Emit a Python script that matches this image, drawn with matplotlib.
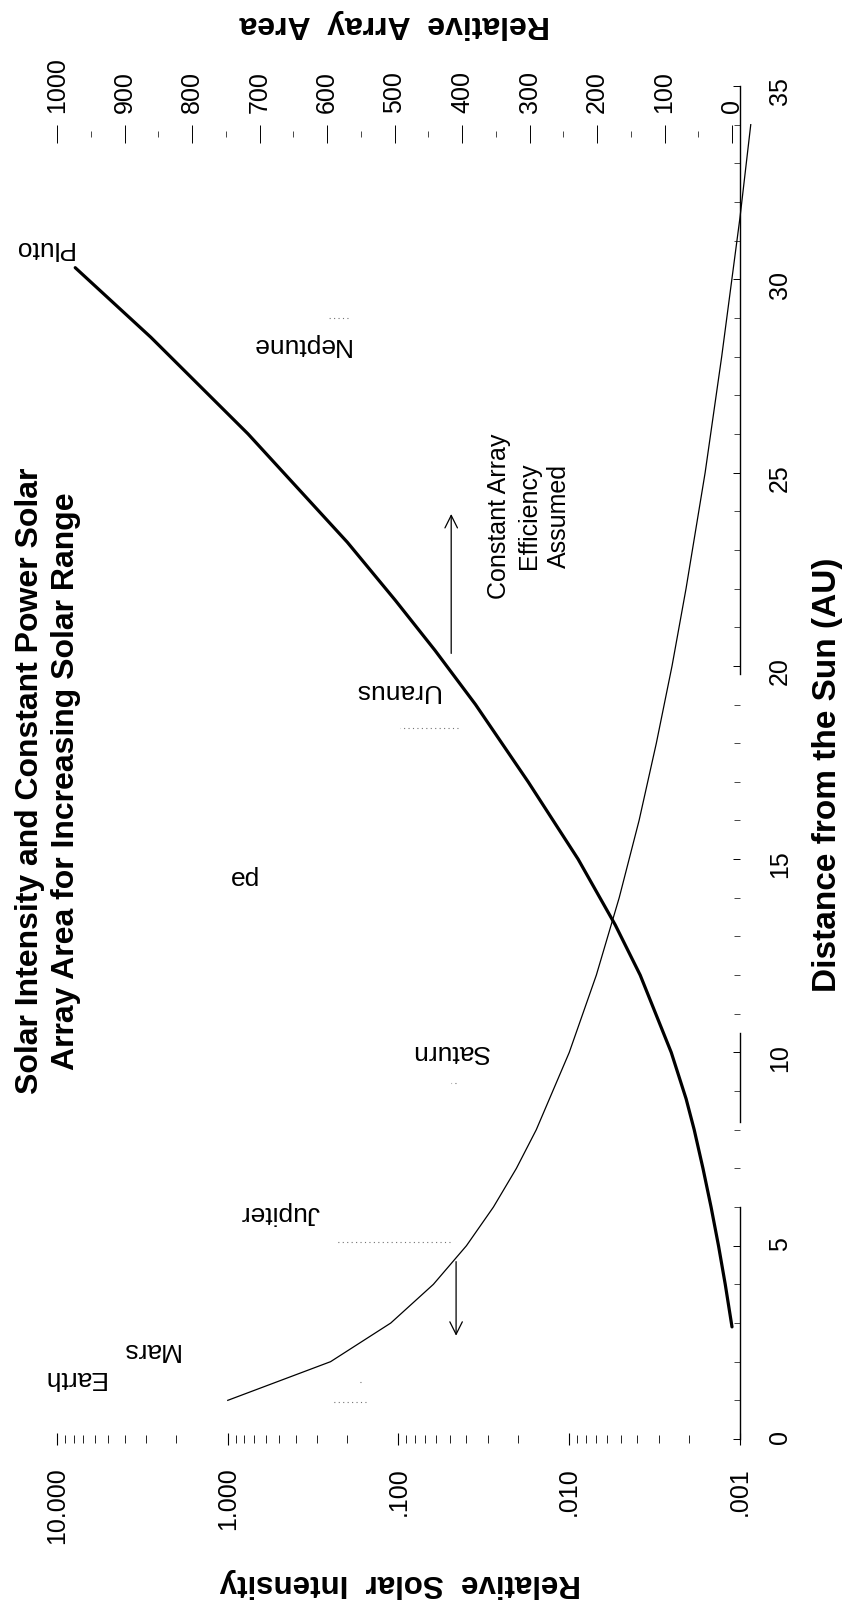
import matplotlib
matplotlib.use("agg")
import matplotlib.pyplot as plt
from matplotlib.ticker import FixedLocator, MultipleLocator, LogLocator, NullFormatter

plt.rcParams['font.family'] = ['Liberation Sans', 'DejaVu Sans']

# solar intensity relative to 1 AU (thin line)
dist = [1, 2, 3, 4, 5, 6, 7, 8, 10, 12, 14, 16, 18, 20, 22, 25, 28, 31.6, 34]
intensity = [1.0, 0.25, 0.111, 0.0625, 0.04, 0.0278, 0.0204, 0.0156, 0.01, 0.00694,
             0.0051, 0.0039, 0.00309, 0.0025, 0.00207, 0.0016, 0.00128, 0.001, 0.000865]

# array area needed for constant power (thick line)
area_dist = [2.9, 4, 5, 6, 7, 8, 8.8, 10, 12, 13.3, 15, 17, 19, 20.4, 21.7, 23.2, 26, 28.5, 30.3]
area = [0, 10, 20, 31, 43, 56, 68, 90, 136, 173, 228, 302, 380, 440, 499, 570, 717, 861, 973]

int_ticks = [10, 1, 0.1, 0.01, 0.001]
int_labels = ['10.000', '1.000', '.100', '.010', '.001']
area_ticks = [0, 100, 200, 300, 400, 500, 600, 700, 800, 900, 1000]
dist_ticks = [0, 5, 10, 15, 20, 25, 30, 35]

planets = ['Earth', 'Mars', 'Jupiter', 'Saturn', 'Uranus', 'Neptune', 'Pluto']
# label positions in pixels (x, y from top)
planet_px = [(73, 1378), (150, 1350), (280, 1213), (450, 1052), (396, 691), (300, 345), (43, 248)]

# faint dotted planet markers left in the scan: distance, intensity span
mark_d = [0.96, 1.47, 5.1, 9.2, 18.4, 29.0]
mark_lo = [0.155, 0.165, 0.050, 0.046, 0.045, 0.198]
mark_hi = [0.245, 0.175, 0.236, 0.049, 0.098, 0.263]

# pieces of the distance axis line that survive in the scan
axis_pieces = [(0, 6.0), (8.2, 10.5), (19.8, 35)]

W, H = 845, 1606
fig = plt.figure(figsize=(W / 100, H / 100), dpi=100)
x0, x1, ytop, ybot = 57, 740, 87, 1440
ax = fig.add_axes([x0 / W, 1 - ybot / H, (x1 - x0) / W, (ybot - ytop) / H])

ax.set_xscale('log')
ax.set_xlim(10, 0.001)
ax.set_ylim(0, 35)
for s in ax.spines.values():
    s.set_visible(False)

ax.xaxis.set_major_locator(FixedLocator(int_ticks))
ax.set_xticklabels(int_labels)
ax.xaxis.set_minor_locator(LogLocator(base=10, subs=range(2, 10)))
ax.xaxis.set_minor_formatter(NullFormatter())
ax.tick_params(axis='x', which='major', direction='inout', length=9, width=0.8,
               labelsize=18, labelrotation=90, pad=15)
ax.tick_params(axis='x', which='minor', direction='inout', length=6, width=0.6)

ax.yaxis.tick_right()
ax.yaxis.set_major_locator(FixedLocator(dist_ticks))
ax.yaxis.set_minor_locator(MultipleLocator(1))
ax.tick_params(axis='y', which='major', direction='in', length=5, width=0.7,
               labelsize=18, labelrotation=90, pad=20)
ax.tick_params(axis='y', which='minor', direction='in', length=4, width=0.5)

for a, b in axis_pieces:
    ax.plot([0.001, 0.001], [a, b], color='black', lw=1.0, clip_on=False)

for d, lo, hi in zip(mark_d, mark_lo, mark_hi):
    ax.plot([lo, hi], [d, d], color='0.45', lw=0.8, ls=(0, (1, 3)))

ax.plot(intensity, dist, color='black', lw=0.9, clip_on=False)

# relative array area axis along the top
ax2 = ax.twiny()
ax2.set_xlim(1000, -11.85)
for s in ax2.spines.values():
    s.set_visible(False)
ax2.spines['top'].set_position(('axes', 1 - 48 / (ybot - ytop)))
ax2.xaxis.set_major_locator(FixedLocator(area_ticks))
ax2.xaxis.set_minor_locator(MultipleLocator(50))
ax2.tick_params(axis='x', which='major', direction='inout', length=13, width=0.7,
                labelsize=18, labelrotation=90, pad=9)
ax2.tick_params(axis='x', which='minor', direction='inout', length=5, width=0.5)
ax2.plot(area, area_dist, color='black', lw=2.3, solid_capstyle='round',
         solid_joinstyle='round', clip_on=False)

# arrows
ax2.annotate('', xy=(416, 24.0), xytext=(416, 20.25),
             arrowprops=dict(arrowstyle='->,head_length=0.9,head_width=0.45', lw=0.9, color='black'))
ax.annotate('', xy=(0.046, 2.6), xytext=(0.046, 4.66),
            arrowprops=dict(arrowstyle='->,head_length=0.9,head_width=0.45', lw=0.9, color='black'))

def ftext(px, py, s, **kw):
    fig.text(px / W, 1 - py / H, s, ha='center', va='center', **kw)

for name, (px, py) in zip(planets, planet_px):
    ftext(px, py, name, fontsize=19, rotation=180)
ftext(246, 879, 'ed', fontsize=19)

ftext(529, 516, 'Constant Array\nEfficiency\nAssumed', fontsize=18, rotation=90,
      multialignment='center', linespacing=1.3)

ftext(48, 781, 'Solar Intensity and Constant Power Solar\nArray Area for Increasing Solar Range',
      fontsize=23, fontweight='bold', rotation=90, multialignment='center', linespacing=1.29)
ftext(828, 775, 'Distance from the Sun (AU)', fontsize=24, fontweight='bold', rotation=90)
ftext(400, 1583, 'Relative  Solar  Intensity', fontsize=22.5, fontweight='bold', rotation=180)
ftext(395, 24, 'Relative  Array  Area', fontsize=23, fontweight='bold', rotation=180)

fig.savefig('out.png', dpi=100)
